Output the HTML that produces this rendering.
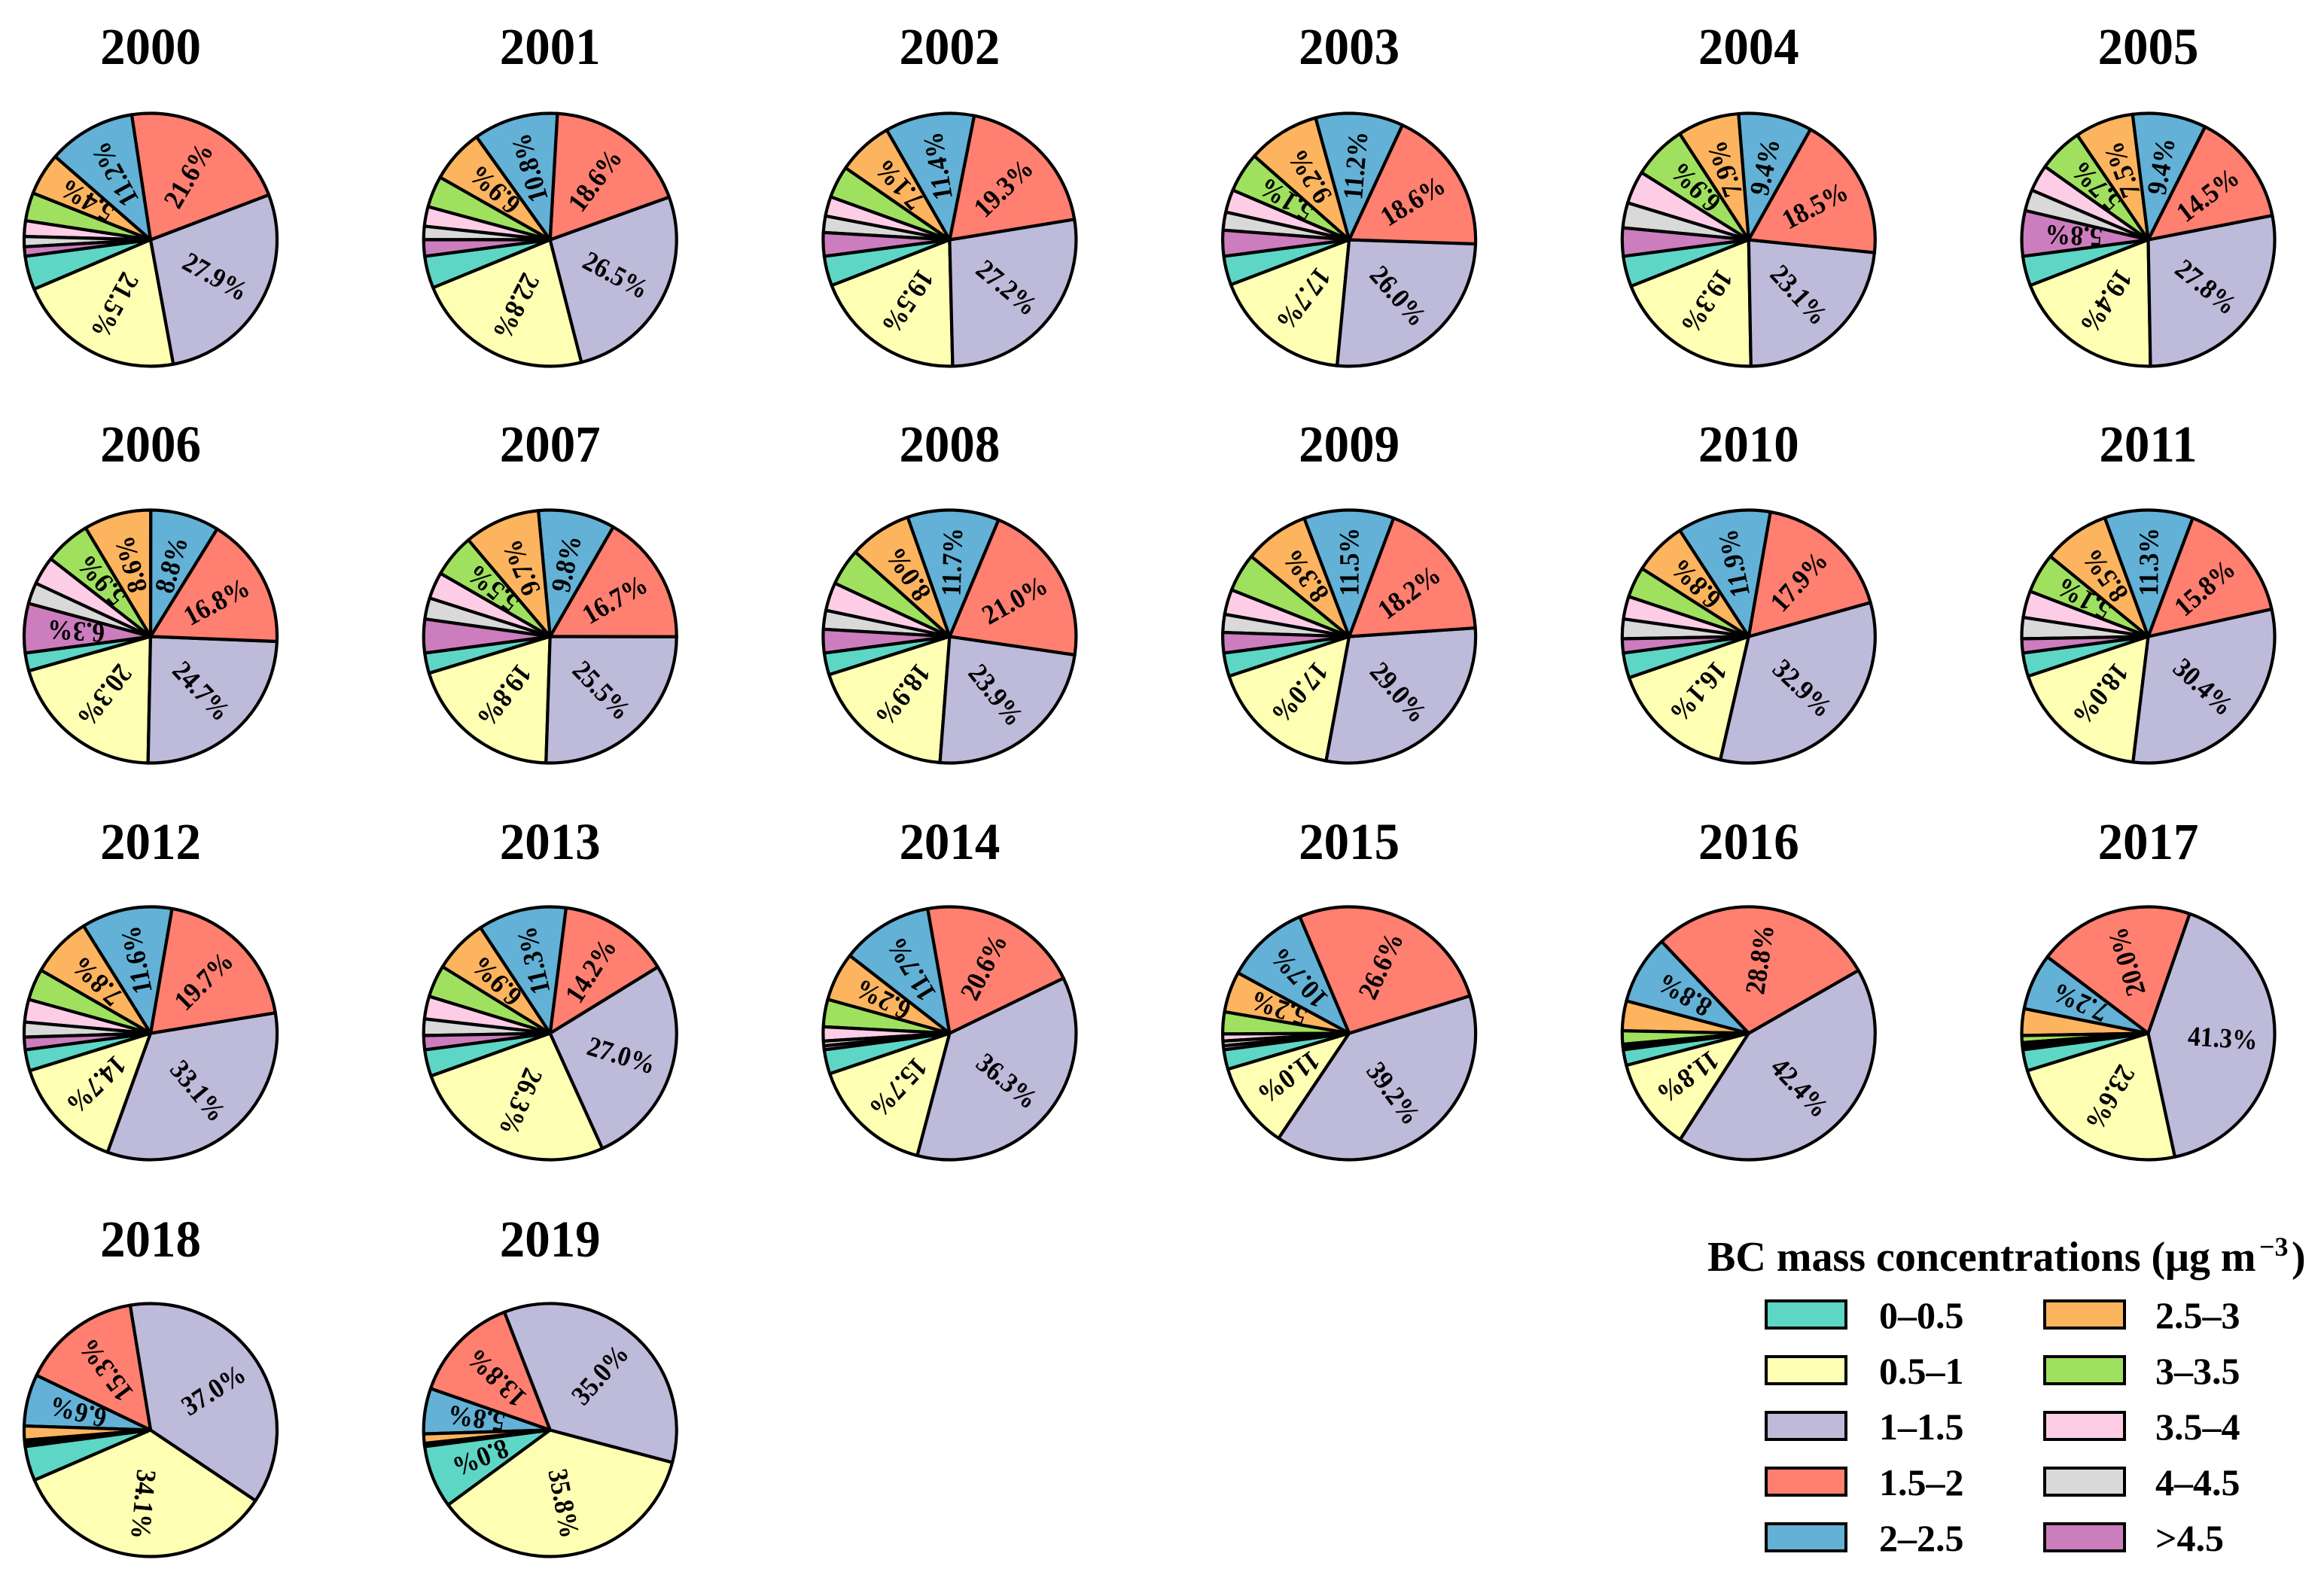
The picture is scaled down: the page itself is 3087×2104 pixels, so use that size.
<!DOCTYPE html>
<html lang="en">
<head>
<meta charset="utf-8">
<title>BC mass concentration distribution by year</title>
<style>
html,body{margin:0;padding:0;background:#fff;width:3087px;height:2104px;overflow:hidden}
svg{display:block;font-family:"Liberation Serif",serif;font-weight:bold}
</style>
</head>
<body>
<svg id="chart" xmlns="http://www.w3.org/2000/svg" width="3087" height="2104" viewBox="0 0 3087 2104">
  <rect x="0" y="0" width="3087" height="2104" fill="#ffffff"/>
  <g id="pies"></g>
  <g id="legend">
    <text x="2268" y="1688" font-size="56" fill="#000">BC mass concentrations (μg m</text>
    <text x="3001" y="1668" font-size="36" fill="#000">−3</text>
    <text x="3044" y="1688" font-size="56" fill="#000">)</text>
  </g>
</svg>
<script>
// Category order: 0–0.5, 0.5–1, 1–1.5, 1.5–2, 2–2.5, 2.5–3, 3–3.5, 3.5–4, 4–4.5, >4.5
const categories = ["0–0.5","0.5–1","1–1.5","1.5–2","2–2.5","2.5–3","3–3.5","3.5–4","4–4.5",">4.5"];
const categoryColors = ["#5ed6c6","#ffffb3","#bebada","#ff7f70","#63b1d6","#fdb45f","#a0e05f","#fdcde6","#d9d9d9","#cc7dbd"];
const years = [2000,2001,2002,2003,2004,2005,2006,2007,2008,2009,2010,2011,2012,2013,2014,2015,2016,2017,2018,2019];

const share2000 = [4.3,21.5,27.9,21.6,11.2,5.4,3.6,2.0,1.3,1.2];
const share2001 = [4.1,22.8,26.5,18.6,10.8,6.9,4.0,2.5,1.7,2.1];
const share2002 = [3.8,19.5,27.2,19.3,11.4,7.1,4.1,2.5,2.1,3.0];
const share2003 = [3.7,17.7,26.0,18.6,11.2,9.2,5.1,2.9,2.3,3.3];
const share2004 = [3.9,19.3,23.1,18.5,9.4,7.9,6.9,4.2,3.2,3.6];
const share2005 = [3.8,19.4,27.8,14.5,9.4,7.5,5.7,3.4,2.7,5.8];
const share2006 = [2.3,20.3,24.7,16.8,8.8,8.6,5.9,3.6,2.7,6.3];
const share2007 = [2.6,19.8,25.5,16.7,9.8,9.7,5.5,3.4,2.7,4.3];
const share2008 = [2.8,18.9,23.9,21.0,11.7,8.0,4.7,3.6,2.4,3.0];
const share2009 = [3.0,17.0,29.0,18.2,11.5,8.3,4.9,3.2,2.3,2.6];
const share2010 = [3.2,16.1,32.9,17.9,11.9,6.8,3.9,2.9,2.5,1.8];
const share2011 = [3.0,18.0,30.4,15.8,11.3,8.5,5.1,3.4,2.7,1.8];
const share2012 = [2.7,14.7,33.1,19.7,11.6,7.8,4.0,2.9,1.9,1.6];
const share2013 = [3.4,26.3,27.0,14.2,11.3,6.9,4.1,2.9,2.1,1.8];
const share2014 = [3.1,15.7,36.3,20.6,11.7,6.2,3.5,1.8,0.6,0.5];
const share2015 = [2.5,11.0,39.2,26.6,10.7,5.2,2.8,0.9,0.6,0.5];
const share2016 = [2.0,11.8,42.4,28.8,8.8,3.8,1.7,0.2,0.2,0.3];
const share2017 = [2.7,23.6,41.3,20.0,7.2,3.4,0.9,0.3,0.3,0.3];
const share2018 = [4.4,34.1,37.0,15.3,6.6,1.8,0.2,0.2,0.2,0.2];
const share2019 = [8.0,35.8,35.0,13.8,5.8,1.2,0.1,0.1,0.1,0.1];

const yearShares = [share2000,share2001,share2002,share2003,share2004,share2005,share2006,share2007,share2008,share2009,share2010,share2011,share2012,share2013,share2014,share2015,share2016,share2017,share2018,share2019];

const SVG_NS = "http://www.w3.org/2000/svg";
const RADIUS = 168;
const START_DEG = 97.5;        // counter-clockwise from north
const LABEL_MIN = 5;           // slices below this share are unlabelled
const COLUMNS = 6;

function pieCenterX(index){ return 200 + (index % COLUMNS) * 530.7; }
function pieCenterY(index){ return 318.5 + Math.floor(index / COLUMNS) * 527; }
function titleY(index){ return 85 + Math.floor(index / COLUMNS) * 528; }
function pointAt(cx, cy, r, deg){
  const a = deg * Math.PI / 180;
  return [cx - r * Math.sin(a), cy - r * Math.cos(a)];
}

const piesGroup = document.getElementById("pies");

years.forEach(function(year, index){
  const values = yearShares[index];
  const cx = pieCenterX(index);
  const cy = pieCenterY(index);
  const total = values.reduce(function(a, b){ return a + b; }, 0);

  const group = document.createElementNS(SVG_NS, "g");
  
  
  piesGroup.appendChild(group);

  const title = document.createElementNS(SVG_NS, "text");
  
  
  title.setAttribute("font-size", 69);
  title.setAttribute("text-anchor", "middle");
  title.setAttribute("transform", "translate(" + cx.toFixed(2) + " " + titleY(index) + ") scale(0.97 1)");
  title.textContent = year;
  group.appendChild(title);

  let angle = START_DEG;
  const labels = [];
  values.forEach(function(value, c){
    const sweep = value / total * 360;
    const p0 = pointAt(cx, cy, RADIUS, angle);
    const p1 = pointAt(cx, cy, RADIUS, angle + sweep);
    const large = sweep > 180 ? 1 : 0;
    const slice = document.createElementNS(SVG_NS, "path");
    
    
    slice.setAttribute("d", "M" + cx + " " + cy + " L" + p0[0].toFixed(2) + " " + p0[1].toFixed(2) +
      " A" + RADIUS + " " + RADIUS + " 0 " + large + " 0 " + p1[0].toFixed(2) + " " + p1[1].toFixed(2) + " Z");
    slice.setAttribute("fill", categoryColors[c]);
    slice.setAttribute("stroke", "#000");
    slice.setAttribute("stroke-width", 4.2);
    slice.setAttribute("stroke-linejoin", "round");
    group.appendChild(slice);
    if (value >= LABEL_MIN) {
      labels.push({ value: value, mid: angle + sweep / 2, cat: categories[c] });
    }
    angle += sweep;
  });

  labels.forEach(function(item){
    const pos = pointAt(cx, cy, RADIUS * 0.59, item.mid);
    const dirX = pos[0] - cx;
    const dirY = pos[1] - cy;
    const rot = Math.atan2(dirY, dirX) * 180 / Math.PI;
    const label = document.createElementNS(SVG_NS, "text");
    
    
    label.setAttribute("font-size", 37);
    label.setAttribute("text-anchor", "middle");
    label.setAttribute("dominant-baseline", "central");
    label.setAttribute("transform", "translate(" + pos[0].toFixed(2) + " " + pos[1].toFixed(2) + ") rotate(" + rot.toFixed(2) + ") scale(0.91 1)");
    label.textContent = item.value.toFixed(1) + "%";
    group.appendChild(label);
  });
});

const legendGroup = document.getElementById("legend");
categories.forEach(function(name, i){
  const col = Math.floor(i / 5);
  const row = i % 5;
  const swatchX = 2346 + col * 370;
  const swatchY = 1728 + row * 74;

  const swatch = document.createElementNS(SVG_NS, "rect");
  
  
  swatch.setAttribute("x", swatchX);
  swatch.setAttribute("y", swatchY);
  swatch.setAttribute("width", 106);
  swatch.setAttribute("height", 36);
  swatch.setAttribute("fill", categoryColors[i]);
  swatch.setAttribute("stroke", "#000");
  swatch.setAttribute("stroke-width", 4);
  legendGroup.appendChild(swatch);

  const entry = document.createElementNS(SVG_NS, "text");
  
  
  entry.setAttribute("x", 2496 + col * 367);
  entry.setAttribute("y", 1764 + row * 74);
  entry.setAttribute("font-size", 50);
  entry.textContent = name;
  legendGroup.appendChild(entry);
});
</script>
</body>
</html>
